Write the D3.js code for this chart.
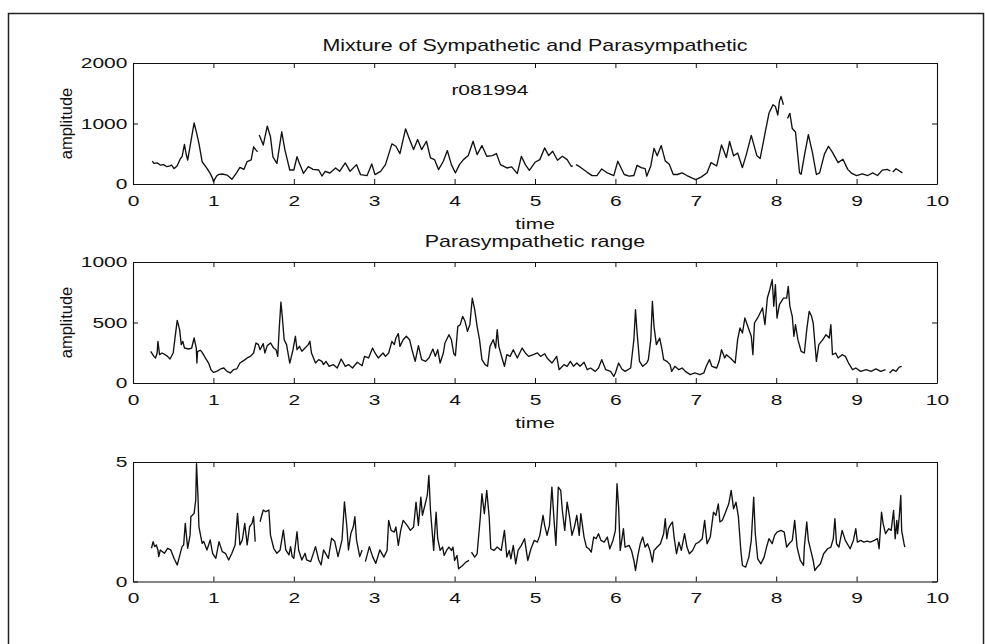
<!DOCTYPE html>
<html><head><meta charset="utf-8">
<script src="https://cdn.jsdelivr.net/npm/d3@7"></script>
<style>
body{margin:0;background:#fff}
svg{display:block}
text{font-family:"Liberation Sans",Arial,Helvetica,sans-serif;fill:#111}
</style>
</head><body><svg id="c" width="985" height="644"></svg>
<script>
// ---------- data ----------
const xTicks = [0,1,2,3,4,5,6,7,8,9,10];
const yTicksMix = [0,1000,2000];
const yTicksPara = [0,500,1000];
const yTicksRatio = [0,5];
const titleMix = "Mixture of Sympathetic and Parasympathetic";
const titlePara = "Parasympathetic range";
const xLabel = "time";
const yLabel = "amplitude";
const recordId = "r081994";
const recordIdAt = [3.96, 1560];

// [time, amplitude]; null marks a break in the trace
const mixture = [
[0.24,379],[0.26,341],[0.30,350],[0.34,313],[0.38,320],[0.42,286],[0.46,300],[0.48,313],[0.51,255],[0.53,275],[0.55,300],[0.59,423],[0.61,450],[0.64,654],[0.66,500],[0.68,396],[0.72,700],[0.76,1011],[0.79,850],[0.82,670],[0.86,368],[0.92,258],[0.96,176],[0.99,93],[1.00,38],[1.04,132],[1.07,160],[1.11,165],[1.17,148],[1.23,77],[1.29,187],[1.33,275],[1.38,242],[1.42,370],[1.47,400],[1.50,615],[1.53,560],[1.55,533],
null,
[1.57,808],[1.62,643],[1.67,956],[1.71,780],[1.74,450],[1.79,341],[1.85,863],[1.89,560],[1.95,231],[2.00,231],[2.04,450],[2.07,341],[2.12,176],[2.18,286],[2.24,242],[2.31,231],[2.35,132],[2.39,210],[2.45,182],[2.52,265],[2.57,210],[2.64,348],[2.70,210],[2.78,320],[2.83,155],[2.91,138],[2.97,331],[3.01,155],[3.08,210],[3.14,320],[3.22,663],[3.27,624],[3.32,503],[3.39,912],[3.44,735],[3.49,569],[3.54,735],[3.59,569],[3.65,707],[3.70,431],[3.75,403],[3.80,238],[3.86,376],[3.91,552],[3.96,320],[4.01,182],[4.06,320],[4.11,403],[4.17,470],[4.23,707],[4.28,486],[4.34,635],[4.40,458],[4.47,470],[4.52,503],[4.57,320],[4.65,265],[4.71,282],[4.78,171],[4.83,458],[4.88,320],[4.93,226],[5.00,359],[5.06,403],[5.12,597],[5.17,470],[5.22,541],[5.28,392],[5.34,458],[5.40,403],[5.45,293],[5.47,300],
null,
[5.51,320],[5.56,282],[5.65,193],[5.71,138],[5.77,138],[5.83,249],[5.90,182],[5.98,138],[6.03,376],[6.11,157],[6.17,129],[6.23,140],[6.27,309],[6.32,270],[6.37,253],[6.39,129],[6.44,298],[6.48,590],[6.52,466],[6.57,635],[6.62,382],[6.67,326],[6.72,157],[6.77,157],[6.83,185],[6.89,140],[6.95,101],[7.00,73],[7.07,118],[7.14,185],[7.19,354],[7.26,298],[7.32,646],[7.38,438],[7.42,702],[7.47,466],[7.52,511],[7.58,270],[7.63,494],[7.69,803],[7.76,466],[7.80,421],[7.86,831],[7.91,1168],[7.96,1309],[7.99,1281],[8.02,1140],[8.04,1365],[8.06,1449],[8.09,1309],
null,
[8.14,1084],[8.17,1168],[8.20,916],[8.24,860],[8.29,185],[8.31,160],[8.35,466],[8.40,815],[8.45,522],[8.50,157],[8.54,185],[8.60,494],[8.65,624],[8.70,522],[8.77,354],[8.83,410],[8.89,242],[8.94,174],[9.00,140],[9.07,169],[9.14,140],[9.20,185],[9.26,140],[9.32,230],[9.38,242],[9.42,215],
null,
[9.45,197],[9.49,253],[9.57,185]
];

const parasym = [
[0.22,262],[0.26,220],[0.28,207],[0.30,248],[0.31,344],[0.33,234],[0.36,248],[0.40,234],[0.43,220],[0.46,198],[0.50,248],[0.52,358],[0.55,518],[0.58,441],[0.60,317],[0.62,344],[0.64,289],[0.69,281],[0.73,289],[0.76,372],[0.787,289],[0.795,165],[0.803,262],[0.84,270],[0.86,253],[0.90,207],[0.94,165],[0.97,110],[1.00,88],[1.04,96],[1.09,116],[1.13,124],[1.17,96],[1.21,83],[1.25,110],[1.29,116],[1.33,165],[1.38,187],[1.42,207],[1.46,220],[1.50,248],[1.53,331],[1.56,317],[1.58,275],[1.62,325],[1.64,248],[1.67,309],[1.71,331],[1.75,289],[1.78,275],[1.80,220],[1.82,463],[1.84,669],[1.86,523],[1.88,358],[1.91,317],[1.95,165],[1.99,275],[2.02,386],[2.04,275],[2.07,303],[2.10,262],[2.14,289],[2.18,317],[2.20,344],[2.22,248],[2.27,165],[2.31,193],[2.35,179],
[2.37,152],[2.40,179],[2.44,138],[2.49,152],[2.54,124],[2.59,198],[2.64,138],[2.68,152],[2.73,124],[2.79,171],[2.85,143],[2.88,220],[2.93,207],[2.98,289],[3.01,248],[3.05,207],[3.11,248],[3.14,220],[3.18,248],[3.22,344],[3.25,317],[3.27,372],[3.30,408],[3.32,303],[3.36,358],[3.40,386],[3.44,358],[3.47,275],[3.51,179],[3.55,309],[3.59,193],[3.64,179],[3.68,207],[3.73,281],[3.76,220],[3.79,275],[3.82,165],[3.86,248],[3.88,331],[3.93,399],[3.96,358],[3.99,242],[4.01,226],[4.04,468],[4.07,482],[4.10,551],[4.13,510],[4.16,427],[4.19,482],[4.22,702],[4.25,606],[4.28,468],[4.31,358],[4.34,193],[4.38,152],[4.41,138],[4.44,303],[4.48,358],[4.51,289],[4.53,441],[4.55,303],[4.59,207],[4.62,138],[4.65,234],[4.69,220],[4.73,275],[4.78,207],[4.84,289],[4.88,248],[4.92,220],[4.98,234],[5.03,248],[5.07,220],[5.12,242],[5.15,207],[5.21,165],[5.27,220],[5.30,110],[5.36,152],[5.40,138],[5.44,179],[5.48,138],[5.52,165],[5.56,138],[5.61,171],[5.65,110],[5.69,124],[5.75,96],[5.79,124],[5.83,193],[5.88,110],[5.94,96],[5.98,55],[6.00,83],[6.04,165],[6.08,116],[6.12,96],[6.19,124],[6.23,358],[6.25,606],[6.27,413],[6.30,179],
[6.34,138],[6.39,165],[6.41,193],[6.44,358],[6.46,675],[6.48,468],[6.51,317],[6.55,372],[6.58,275],[6.60,193],[6.64,179],[6.68,152],[6.70,96],[6.74,138],[6.79,110],[6.83,124],[6.87,96],[6.93,69],[6.99,83],[7.05,69],[7.10,83],[7.13,138],[7.17,193],[7.20,138],[7.26,124],[7.29,179],[7.32,275],[7.36,207],[7.38,234],[7.43,207],[7.49,165],[7.52,358],[7.55,455],[7.58,413],[7.61,537],[7.64,482],[7.69,386],[7.71,234],[7.73,496],[7.78,551],[7.83,620],[7.86,482],[7.89,702],[7.92,771],[7.95,854],[7.97,634],[7.99,813],[8.01,537],[8.04,647],[8.09,702],[8.13,702],[8.15,799],[8.17,634],[8.20,551],[8.22,386],[8.24,482],[8.27,358],[8.31,262],[8.35,248],[8.38,441],[8.41,592],[8.44,551],[8.46,496],[8.50,179],[8.53,317],[8.58,358],[8.62,399],[8.66,372],[8.68,482],[8.70,234],[8.74,248],[8.77,207],[8.82,234],[8.86,220],[8.90,165],[8.95,110],[8.99,124],[9.05,96],[9.12,110],[9.18,96],[9.24,116],[9.30,96],[9.36,110],
null,
[9.41,83],[9.45,110],[9.49,96],[9.53,132],[9.56,138]
];

const ratio = [
[0.23,1.39],[0.25,1.67],[0.27,1.46],[0.29,1.53],[0.31,1.32],[0.32,1.04],[0.34,1.32],[0.39,1.18],[0.43,1.39],[0.47,1.32],[0.51,0.97],[0.55,0.69],[0.58,1.07],[0.61,1.46],[0.63,1.53],[0.65,2.43],[0.68,1.39],[0.71,1.94],[0.72,2.71],[0.76,2.85],[0.78,3.4],[0.79,4.93],[0.81,3.4],[0.82,2.29],[0.86,1.6],[0.88,1.67],[0.92,1.32],[0.96,1.74],[0.99,1.18],[1.03,0.97],[1.07,1.67],[1.11,1.25],[1.15,1.18],[1.19,0.9],[1.23,1.18],[1.27,1.53],[1.30,2.85],[1.33,1.53],[1.36,1.74],[1.39,2.43],[1.42,1.53],[1.45,2.29],[1.48,2.43],[1.50,2.71],[1.52,1.67],
null,
[1.58,2.5],[1.62,2.99],[1.65,2.92],[1.69,2.99],[1.71,1.94],[1.75,1.39],[1.79,1.18],[1.83,1.32],[1.87,2.15],[1.90,1.32],[1.94,1.11],[1.96,1.46],[1.98,1.04],[2.00,0.97],[2.04,2.08],[2.06,1.32],[2.10,0.9],[2.14,1.18],[2.16,0.9],[2.21,0.83],[2.27,1.46],[2.31,0.9],[2.34,0.69],[2.37,1.32],[2.43,0.97],[2.47,1.81],[2.51,1.67],[2.55,1.04],[2.60,1.74],[2.63,3.33],[2.66,2.29],[2.68,1.32],[2.71,2.01],[2.74,2.29],[2.76,2.71],[2.78,1.74],[2.82,1.04],[2.85,1.32],
null,
[2.89,0.83],[2.94,1.46],[2.98,1.04],[3.02,0.76],[3.07,1.32],[3.12,1.02],[3.16,1.3],[3.18,2.56],[3.21,2.14],[3.25,2.07],[3.27,2.28],[3.30,1.51],[3.33,2.14],[3.36,2.56],[3.41,2.35],[3.45,2.14],[3.49,2.28],[3.52,3.32],[3.55,2.35],[3.58,3.53],[3.60,2.77],[3.63,3.18],[3.66,3.6],[3.68,4.44],[3.70,2.97],[3.74,1.3],[3.75,1.93],[3.77,2.9],[3.79,1.79],[3.82,1.3],[3.85,1.44],[3.87,1.09],[3.90,1.3],[3.93,1.44],[3.96,1.3],[3.98,1.44],[4.00,0.88],[4.03,1.09],[4.05,0.53],[4.10,0.67],[4.14,0.81],[4.18,0.88],
null,
[4.21,1.23],[4.25,1.02],[4.28,1.16],[4.32,2.7],[4.34,3.67],[4.37,2.84],[4.40,3.81],[4.43,2.7],[4.45,1.37],[4.49,1.3],[4.53,1.44],[4.58,1.3],[4.62,2.14],[4.65,1.02],[4.68,1.3],[4.70,0.95],[4.73,1.51],[4.76,0.74],[4.79,1.3],[4.83,1.51],[4.87,1.79],[4.91,0.88],[4.95,1.37],[4.99,1.72],[5.03,1.65],[5.06,1.93],[5.10,2.77],[5.12,2.35],[5.15,1.93],[5.18,2.35],[5.21,3.95],[5.24,2.42],[5.26,1.51],[5.29,3.95],[5.32,3.81],[5.34,2.97],[5.37,2.14],[5.40,3.32],[5.43,2.7],[5.46,1.93],[5.49,2.28],[5.52,2.77],[5.55,1.93],[5.57,2.84],[5.61,1.86],[5.64,1.44],[5.67,1.37],[5.70,1.23],[5.73,1.86],[5.76,1.79],[5.79,2.0],[5.82,1.72],[5.86,1.65],[5.90,1.86],[5.93,1.37],[5.97,1.72],[6.00,2.14],[6.02,4.09],[6.04,3.11],[6.06,1.3],[6.10,2.21],[6.12,1.44],[6.17,1.51],[6.20,1.3],[6.23,0.88],[6.25,0.46],[6.28,1.09],[6.31,1.58],[6.34,1.86],[6.37,1.44],[6.40,1.58],[6.43,1.3],[6.46,0.81],[6.48,1.3],[6.52,1.44],[6.56,1.58],
[6.60,2.0],[6.62,2.63],[6.64,1.79],[6.66,2.21],[6.68,2.35],[6.71,2.49],[6.73,1.86],[6.76,1.16],[6.79,1.65],[6.82,1.3],[6.86,2.0],[6.89,1.44],[6.92,1.16],[6.96,1.3],[7.00,1.58],[7.04,1.65],[7.08,1.79],[7.11,2.56],[7.14,1.58],[7.18,1.86],[7.22,2.9],[7.25,2.77],[7.28,3.25],[7.30,2.49],[7.33,2.56],[7.37,2.9],[7.41,3.25],[7.44,3.81],[7.47,3.04],[7.50,3.32],[7.53,2.7],[7.56,1.3],[7.58,0.67],[7.62,0.6],[7.66,1.02],[7.69,1.72],[7.72,3.53],[7.74,2.0],[7.77,0.95],[7.81,0.74],[7.85,1.02],[7.88,1.44],[7.91,1.79],[7.95,1.58],[7.98,1.93],[8.01,2.07],[8.06,2.14],[8.10,2.07],[8.13,1.44],[8.16,1.58],[8.20,1.72],[8.23,2.56],[8.26,1.44],[8.30,0.88],[8.34,0.67],[8.35,1.44],[8.38,2.49],[8.40,1.72],[8.43,1.3],[8.46,0.88],[8.48,0.46],[8.51,0.6],[8.55,0.74],[8.59,1.16],[8.64,1.37],[8.68,1.44],[8.71,1.79],[8.73,2.63],[8.75,1.58],[8.78,1.44],[8.82,2.14],[8.86,1.72],[8.92,1.37],[8.96,1.72],[8.99,2.21],[9.01,1.65],[9.05,1.72],[9.09,1.65],[9.13,1.69],[9.17,1.65],[9.22,1.72],[9.26,1.79],[9.28,1.37],[9.31,2.9],[9.33,2.42],[9.36,2.0],[9.40,2.21],[9.43,2.14],[9.46,2.97],[9.48,1.79],[9.50,2.56],[9.51,2.0],[9.53,2.7],[9.55,3.6],[9.56,2.14],[9.59,1.58],[9.60,1.44]
];

// ---------- drawing ----------
const W = 985, H = 644;
const SX = 1.4;           // horizontal stretch of the scanned lettering
const FS = 15;
const svg = d3.select("#c");
svg.append("rect").attr("width", W).attr("height", H).attr("fill", "#fff");
svg.append("rect").attr("x", 8.5).attr("y", 13.5).attr("width", 975).attr("height", 700)
  .attr("fill", "none").attr("stroke", "#222").attr("stroke-width", 1.5);

const x = d3.scaleLinear().domain([0, 10]).range([133, 937]);

const panels = [
  {data: mixture, yTicks: yTicksMix, top: 63, bottom: 184, title: titleMix, titleY: 51, xl: xLabel, yl: yLabel},
  {data: parasym, yTicks: yTicksPara, top: 262, bottom: 383, title: titlePara, titleY: 247, xl: xLabel, yl: yLabel},
  {data: ratio, yTicks: yTicksRatio, top: 462, bottom: 581.5, title: null, xl: null, yl: null}
];

function styleText(sel) {
  sel.selectAll("text").attr("font-size", FS).attr("fill", "#111")
     .attr("transform", `scale(${SX},1)`).attr("font-family", null);
}

panels.forEach((p, i) => {
  const yd = d3.extent(p.yTicks);
  const y = d3.scaleLinear().domain(yd).range([p.bottom, p.top]);
  const g = svg.append("g");

  const bottom = g.append("g").attr("transform", `translate(0,${p.bottom})`)
    .call(d3.axisBottom(x).tickValues(xTicks).tickSizeInner(-5).tickSizeOuter(0).tickPadding(11).tickFormat(d3.format("d")));
  const top = g.append("g").attr("transform", `translate(0,${p.top})`)
    .call(d3.axisTop(x).tickValues(xTicks).tickSizeInner(-5).tickSizeOuter(0).tickFormat(""));
  const left = g.append("g").attr("transform", `translate(${x(0)},0)`)
    .call(d3.axisLeft(y).tickValues(p.yTicks).tickSizeInner(-5).tickSizeOuter(0).tickPadding(4).tickFormat(d3.format("d")));
  const right = g.append("g").attr("transform", `translate(${x(10)},0)`)
    .call(d3.axisRight(y).tickValues(p.yTicks).tickSizeInner(-5).tickSizeOuter(0).tickFormat(""));
  [bottom, top, left, right].forEach(a => {
    a.select(".domain").attr("stroke", "#111").attr("stroke-width", 1.1);
    a.selectAll(".tick line").attr("stroke", "#111").attr("stroke-width", 1);
    styleText(a);
  });

  const line = d3.line().defined(d => d !== null).x(d => x(d[0])).y(d => y(d[1]));
  g.append("path").datum(p.data).attr("d", line)
    .attr("fill", "none").attr("stroke", "#111").attr("stroke-width", 1.35)
    .attr("stroke-linejoin", "round");

  if (p.title) {
    g.append("text").attr("transform", `translate(${x(5)},${p.titleY}) scale(1.34,1)`)
      .attr("text-anchor", "middle").attr("font-size", 16).text(p.title);
  }
  if (p.xl) {
    g.append("text").attr("transform", `translate(${x(5)},${p.bottom + 45}) scale(${SX},1)`)
      .attr("text-anchor", "middle").attr("font-size", FS).text(p.xl);
  }
  if (p.yl) {
    g.append("text").attr("transform", `translate(72,${(p.top + p.bottom) / 2}) rotate(-90)`)
      .attr("text-anchor", "middle").attr("font-size", 16.5).text(p.yl);
  }
  if (i === 0) {
    g.append("text").attr("transform", `translate(${x(recordIdAt[0])},${y(recordIdAt[1])}) scale(${SX},1)`)
      .attr("font-size", FS).attr("dy", "0.35em").text(recordId);
  }
});
</script>
</body></html>
